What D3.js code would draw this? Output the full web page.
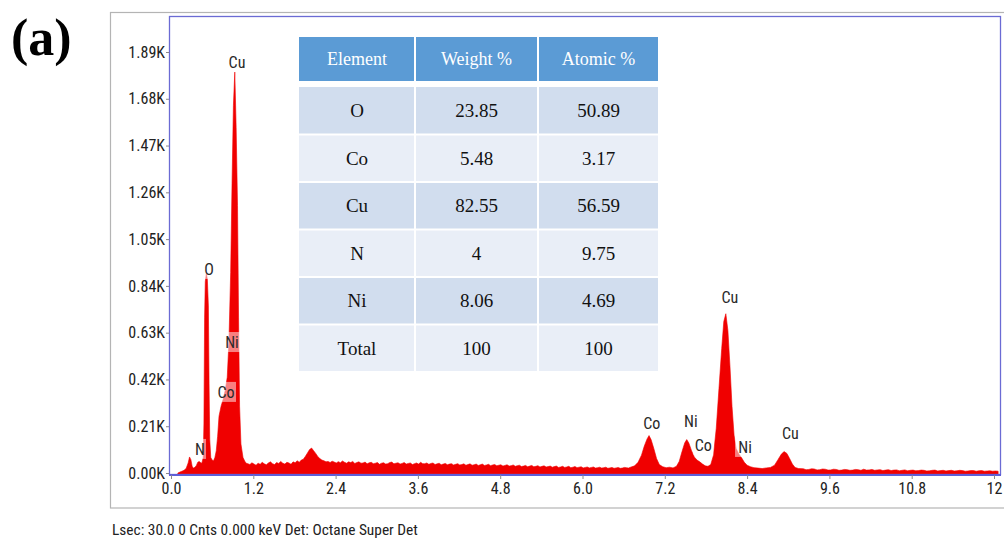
<!DOCTYPE html>
<html><head><meta charset="utf-8">
<script src="https://cdn.jsdelivr.net/npm/d3@7"></script>
<style>body{margin:0;background:#fff}svg{display:block}</style>
</head><body><svg id="c" width="1004" height="540"></svg>
<script>
// ---------- data ----------
const spectrum = [
[0.10,0],[0.13,4],[0.16,8],[0.19,12],[0.22,20],[0.25,45],[0.27,72],[0.29,60],[0.31,28],[0.33,22],[0.35,26],[0.37,34],
[0.39,48],[0.41,52],[0.43,47],[0.45,44],[0.47,70],[0.48,220],[0.49,700],[0.50,860],[0.515,895],[0.53,870],[0.545,750],
[0.555,400],[0.565,150],[0.58,70],[0.60,58],[0.62,55],[0.64,70],[0.66,100],[0.68,165],[0.70,255],[0.73,300],[0.76,330],[0.79,370],
[0.82,430],[0.845,590],[0.87,900],[0.89,1300],[0.91,1650],[0.93,1800],[0.95,1550],[0.97,1200],[0.985,700],[1.00,300],
[1.02,130],[1.05,70],[1.08,50],[1.10,44],
[1.12,42],[1.15,38],[1.18,46],[1.21,40],[1.24,35],[1.27,44],[1.30,39],[1.33,48],[1.36,41],[1.39,37],[1.42,45],[1.45,50],
[1.48,42],[1.51,38],[1.54,47],[1.57,43],[1.60,52],[1.63,44],[1.66,40],[1.69,48],[1.72,45],[1.75,39],[1.78,50],[1.81,46],
[1.84,55],[1.87,48],[1.90,58],[1.93,62],[1.96,75],[1.99,90],[2.02,105],[2.05,112],[2.08,100],[2.11,88],[2.14,74],[2.17,65],
[2.20,58],[2.23,55],[2.26,50],[2.29,52],[2.32,47],[2.35,53],[2.38,49],[2.41,45],[2.44,51],[2.47,46],[2.50,54],[2.53,48],
[2.56,44],[2.59,50],[2.62,47],[2.65,52],[2.68,43],[2.71,47],[2.74,50],[2.77,44],[2.80,45],[2.83,49],[2.86,41],[2.89,46],
[2.92,48],[2.95,42],[2.98,44],[3.01,47],[3.04,39],[3.07,44],[3.10,46],[3.13,40],[3.16,42],[3.19,47],[3.22,49],[3.25,41],
[3.28,44],[3.31,46],[3.34,40],[3.37,43],[3.40,47],[3.43,40],[3.46,43],[3.49,45],[3.52,38],[3.55,42],[3.58,45],[3.61,40],
[3.64,48],[3.67,42],[3.70,42],[3.73,45],[3.76,39],[3.79,43],[3.82,45],[3.85,38],[3.88,41],[3.91,44],[3.94,37],[3.97,40],
[4.00,43],[4.03,37],[4.06,40],[4.09,42],[4.12,36],[4.15,39],[4.18,42],[4.21,36],[4.24,38],[4.27,41],[4.30,35],[4.33,38],
[4.36,41],[4.39,35],[4.42,37],[4.45,40],[4.48,34],[4.51,37],[4.54,40],[4.57,34],[4.60,36],[4.63,39],[4.66,33],[4.69,36],
[4.72,38],[4.75,32],[4.78,35],[4.81,37],[4.84,31],[4.87,34],[4.90,37],[4.93,31],[4.96,33],[4.99,36],[5.02,30],[5.05,33],
[5.08,35],[5.11,29],[5.14,31],[5.17,34],[5.20,28],[5.23,31],[5.26,34],[5.29,28],[5.32,30],[5.35,33],[5.38,27],[5.41,30],
[5.44,32],[5.47,27],[5.50,29],[5.53,31],[5.56,26],[5.59,29],[5.62,31],[5.65,25],[5.68,27],[5.71,30],[5.74,25],[5.77,27],
[5.80,30],[5.83,24],[5.86,26],[5.89,29],[5.92,24],[5.95,26],[5.98,28],[6.01,23],[6.04,25],[6.07,27],[6.10,23],[6.13,25],
[6.16,27],[6.19,22],[6.22,24],[6.25,26],[6.28,22],[6.31,24],[6.34,26],[6.37,21],[6.40,23],[6.43,25],[6.46,21],[6.49,23],
[6.52,25],[6.55,21],[6.58,22],[6.61,25],[6.64,24],[6.67,22],[6.70,26],
[6.76,32],[6.81,48],[6.86,80],[6.90,120],[6.94,152],[6.97,168],[7.00,150],[7.04,110],[7.08,65],[7.12,38],[7.17,28],
[7.22,24],[7.27,26],[7.32,23],[7.37,30],
[7.41,52],[7.45,95],[7.49,135],[7.52,150],[7.55,135],[7.59,100],[7.63,72],[7.67,58],[7.71,50],[7.75,40],[7.79,32],
[7.83,30],[7.87,38],
[7.91,80],[7.95,200],[7.99,380],[8.03,560],[8.06,680],[8.09,715],[8.12,640],[8.15,480],[8.18,300],[8.21,170],[8.24,110],
[8.28,85],[8.32,68],[8.36,48],[8.40,35],[8.45,28],[8.50,24],[8.56,22],[8.62,20],[8.68,23],[8.74,25],
[8.80,35],[8.85,60],[8.90,85],[8.94,96],[8.98,88],[9.02,65],[9.06,40],[9.10,25],[9.15,20],
[9.22,19],[9.26,15],[9.30,16],[9.34,19],[9.38,18],[9.42,14],[9.46,15],[9.50,18],[9.54,17],[9.58,13],[9.62,14],[9.66,17],
[9.70,16],[9.74,12],[9.78,13],[9.82,16],[9.86,15],[9.90,12],[9.94,13],[9.98,16],[10.02,15],[10.06,12],[10.10,17],[10.14,13],
[10.18,14],[10.22,16],[10.26,12],[10.30,14],[10.34,15],[10.38,11],[10.42,13],[10.46,15],[10.50,11],[10.54,13],[10.58,14],
[10.62,10],[10.66,12],[10.70,14],[10.74,10],[10.78,12],[10.82,13],[10.86,10],[10.90,11],[10.94,13],[10.98,12],[11.02,9],
[11.06,10],[11.10,12],[11.14,13],[11.18,9],[11.22,11],[11.26,12],[11.30,9],[11.34,11],[11.38,12],[11.42,9],[11.46,10],
[11.50,12],[11.54,11],[11.58,8],[11.62,9],[11.66,11],[11.70,11],[11.74,8],[11.78,10],[11.82,11],[11.86,8],[11.90,9],
[11.94,10],[11.98,8],[12.02,9],[12.06,8]
];
const yTickValues = [0,210,420,630,840,1050,1260,1470,1680,1890];
const yTickLabels = ["0.00K","0.21K","0.42K","0.63K","0.84K","1.05K","1.26K","1.47K","1.68K","1.89K"];
const xTickValues = [0,1.2,2.4,3.6,4.8,6.0,7.2,8.4,9.6,10.8,12];
const xTickLabels = ["0.0","1.2","2.4","3.6","4.8","6.0","7.2","8.4","9.6","10.8","12"];
const peakNames = ["Cu","O","Ni","Co","N","Co","Ni","Co","Cu","Ni","Cu"];
const peakKeV   = [0.962,0.554,0.889,0.802,0.423,7.01,7.58,7.76,8.15,8.37,9.03];
const peakCts   = [1845,916,588,364,108,224,233,126,790,117,180];
const tableHeader = ["Element","Weight %","Atomic %"];
const tableElements = ["O","Co","Cu","N","Ni","Total"];
const weightPct = ["23.85","5.48","82.55","4","8.06","100"];
const atomicPct = ["50.89","3.17","56.59","9.75","4.69","100"];
const panelLabel = "(a)";
const footer = "Lsec: 30.0 0 Cnts 0.000 keV Det: Octane Super Det";

// ---------- layout ----------
const svg = d3.select("#c");
const narrow = "'Roboto Condensed','DejaVu Sans Condensed',Roboto,sans-serif";
const serif = "'Liberation Serif','Times New Roman',serif";
svg.append("rect").attr("width",1004).attr("height",540).attr("fill","#fff");

const x = d3.scaleLinear().domain([0,12]).range([171,994]);
const y = d3.scaleLinear().domain([0,1890]).range([473,52]);

// outer gray frame
svg.append("rect").attr("x",110.5).attr("y",12.5).attr("width",905).attr("height",495.5)
  .attr("fill","none").attr("stroke","#b4b4b4").attr("stroke-width",1.2);

// spectrum
const area = d3.area().x(d=>x(d[0])).y0(y(0)+1).y1(d=>y(d[1]));
svg.append("path").datum(spectrum).attr("d",area).attr("fill","#f00000")
  .attr("stroke","#f00000").attr("stroke-width",0.6);

// plot frame
svg.append("rect").attr("x",169.5).attr("y",16.5).attr("width",831).attr("height",458)
  .attr("fill","none").attr("stroke","#6b6bd4").attr("stroke-width",1.3);
svg.append("line").attr("x1",169).attr("x2",1001).attr("y1",475).attr("y2",475)
  .attr("stroke","#5e5ed8").attr("stroke-width",2.2);

// axes
const yAxis = d3.axisLeft(y).tickValues(yTickValues).tickFormat((d,i)=>yTickLabels[i]).tickSize(3).tickPadding(1);
const gy = svg.append("g").attr("transform","translate(169,0)").call(yAxis);
gy.select(".domain").remove();
gy.selectAll("line").attr("stroke","#8a8a8a");
gy.selectAll("text").attr("font-family",narrow).attr("font-size",16).attr("fill","#222");

const xAxis = d3.axisBottom(x).tickValues(xTickValues).tickFormat((d,i)=>xTickLabels[i]).tickSize(4).tickPadding(4);
const gx = svg.append("g").attr("transform","translate(0,475)").call(xAxis);
gx.select(".domain").remove();
gx.selectAll("line").attr("stroke","#8a8a8a");
gx.selectAll("text").attr("font-family",narrow).attr("font-size",16).attr("fill","#222");

// peak labels
const pl = svg.append("g");
peakNames.forEach((n,i)=>{
  const cx = x(peakKeV[i]), cy = y(peakCts[i]);
  const w = n.length*8+4;
  pl.append("rect").attr("x",cx-w/2).attr("y",cy-10).attr("width",w).attr("height",20)
    .attr("fill","#fff").attr("fill-opacity",0.5);
  pl.append("text").attr("x",cx).attr("y",cy).attr("dy","0.36em").attr("text-anchor","middle")
    .attr("font-family",narrow).attr("font-size",16).attr("fill","#2a2a2a").text(n);
});

// table
const colX = [299,415,538,659];
const headTop = 37, headBot = 81, rowTop = 87, rowH = 47.5;
const tg = svg.append("g");
tableHeader.forEach((h,j)=>{
  tg.append("rect").attr("x",colX[j]+(j?1:0)).attr("y",headTop).attr("width",colX[j+1]-colX[j]-(j?1:0)-1)
    .attr("height",headBot-headTop).attr("fill","#5b9bd5");
  tg.append("text").attr("x",(colX[j]+colX[j+1])/2).attr("y",(headTop+headBot)/2).attr("dy","0.35em")
    .attr("text-anchor","middle").attr("font-family",serif).attr("font-size",18).attr("fill","#fff").text(h);
});
const rows = tableElements.map((e,i)=>[e,weightPct[i],atomicPct[i]]);
rows.forEach((r,i)=>{
  const ry = rowTop + i*rowH;
  r.forEach((v,j)=>{
    tg.append("rect").attr("x",colX[j]+(j?1:0)).attr("y",ry+(i?1:0)).attr("width",colX[j+1]-colX[j]-(j?1:0)-1)
      .attr("height",rowH-(i?2:1)).attr("fill",i%2===0?"#d1ddee":"#e9eef7");
    tg.append("text").attr("x",(colX[j]+colX[j+1])/2).attr("y",ry+rowH/2).attr("dy","0.35em")
      .attr("text-anchor","middle").attr("font-family",serif).attr("font-size",19).attr("fill","#111").text(v);
  });
});

// panel label and footer
svg.append("text").attr("x",11).attr("y",55).attr("font-family",serif).attr("font-weight","bold")
  .attr("font-size",52).attr("fill","#000").text(panelLabel);
svg.append("text").attr("x",112).attr("y",535).attr("font-family",narrow).attr("font-size",15.4)
  .attr("fill","#222").text(footer);
</script></body></html>
